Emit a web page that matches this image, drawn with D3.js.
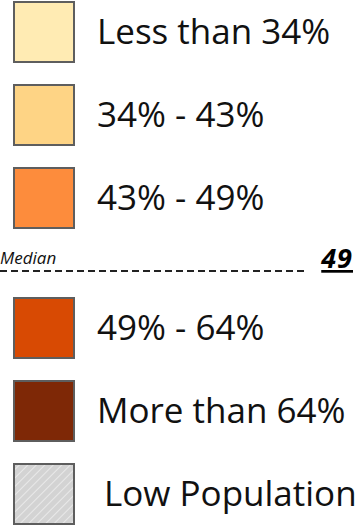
<!DOCTYPE html>
<html><head><meta charset="utf-8">
<script src="https://cdn.jsdelivr.net/npm/d3@7"></script>
<style>html,body{margin:0;padding:0;background:#fff;}svg{display:block;}</style>
</head><body>
<svg id="c" width="357" height="530"></svg>
<script>
const labelsAbove = ["Less than 34%", "34% - 43%", "43% - 49%"];
const colorsAbove = ["#FFEBB3", "#FED485", "#FD8C3C"];
const labelsBelow = ["49% - 64%", "More than 64%"];
const colorsBelow = ["#D84A03", "#7E2806"];
const lowLabel = "Low Population";
const medianLabel = "Median";
const medianValue = 49;

const svg = d3.select("#c");
const defs = svg.append("defs");
const pat = defs.append("pattern").attr("id","hatch").attr("patternUnits","userSpaceOnUse")
  .attr("width",6).attr("height",6).attr("patternTransform","rotate(45)");
pat.append("rect").attr("width",6).attr("height",6).attr("fill","#d3d3d3");
pat.append("line").attr("x1",0).attr("y1",0).attr("x2",0).attr("y2",6).attr("stroke","#e9e9e9").attr("stroke-width",2);

const yTop = d3.scaleLinear().domain([0,1]).range([2,85]);
const yBot = d3.scaleLinear().domain([0,1]).range([298,381]);
const box = 60, bx = 14, tx = 97;
const font = "'Open Sans', sans-serif";

function row(g, y, fill, label, textX){
  g.append("rect").attr("x",bx).attr("y",y).attr("width",box).attr("height",box)
    .attr("fill",fill).attr("stroke","#5e5e5e").attr("stroke-width",2);
  g.append("text").attr("x",textX).attr("y",y+box/2+12).attr("font-family",font)
    .attr("font-size",35).attr("fill","#111").text(label);
}
labelsAbove.forEach((l,i)=>row(svg, yTop(i), colorsAbove[i], l, tx));
labelsBelow.forEach((l,i)=>row(svg, yBot(i), colorsBelow[i], l, tx));
row(svg, yBot(2), "url(#hatch)", lowLabel, 104);

// median line
svg.append("line").attr("x1",0).attr("x2",308).attr("y1",271).attr("y2",271)
  .attr("stroke","#222").attr("stroke-width",1.8).attr("stroke-dasharray","7,4");
svg.append("text").attr("x",0).attr("y",264).attr("font-family",font).attr("font-style","italic")
  .attr("font-size",17).attr("fill","#111").text(medianLabel);
svg.append("text").attr("x",353).attr("y",268).attr("text-anchor","end").attr("font-family",font)
  .attr("font-style","italic").attr("font-weight","bold").attr("font-size",27).attr("letter-spacing",1)
  .attr("text-decoration","underline").attr("fill","#000").text(medianValue);
</script>
</body></html>
